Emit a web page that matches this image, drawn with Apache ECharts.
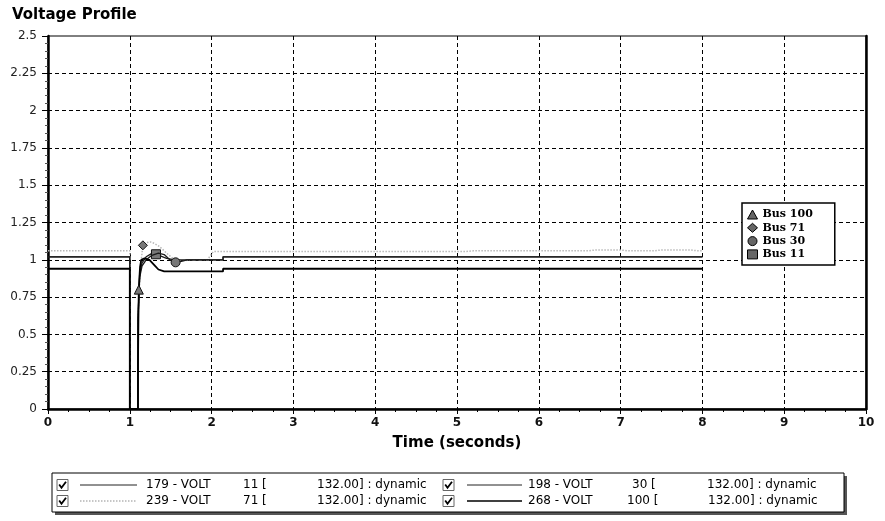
<!DOCTYPE html>
<html><head><meta charset="utf-8">
<script src="https://cdn.jsdelivr.net/npm/echarts@6/dist/echarts.min.js"></script>
<style>html,body{margin:0;padding:0;background:#fff}#c{width:885px;height:521px}</style>
</head><body><div id="c"></div>
<script>
// ---------- data ----------
const xTickValues = [0,1,2,3,4,5,6,7,8,9,10];
const yTickValues = [0,0.25,0.5,0.75,1,1.25,1.5,1.75,2,2.25,2.5];

const seriesNames = ['Bus 11','Bus 71','Bus 30','Bus 100'];
const legendOrder = ['Bus 100','Bus 71','Bus 30','Bus 11'];

// Bus 11 (179 - VOLT)
const t11 = [0,1.0,1.0,1.1,1.1,1.12,1.15,1.2,1.26,1.32,1.38,1.45,1.55,1.65,2.14,2.14,8];
const v11 = [1.02,1.02,0,0,0.6,0.9,0.98,1.02,1.04,1.037,1.025,1.01,1.0,1.0,1.0,1.02,1.02];
const m11 = 9;
// Bus 71 (239 - VOLT)
const t71 = [0,1.0,1.0,1.1,1.1,1.13,1.16,1.2,1.25,1.3,1.36,1.42,1.48,1.55,1.62,1.95,2.02,3.0,5.1,5.2,6.6,6.7,7.0,7.1,7.4,7.5,7.85,7.95,8];
const v71 = [1.06,1.06,0,0,0.6,0.95,1.097,1.115,1.12,1.11,1.09,1.06,1.03,1.0,0.995,1.0,1.055,1.055,1.055,1.06,1.06,1.066,1.066,1.06,1.06,1.066,1.066,1.06,1.06];
const m71 = 6;
// Bus 30 (198 - VOLT)
const t30 = [0,1.0,1.0,1.1,1.1,1.12,1.15,1.2,1.27,1.35,1.42,1.49,1.56,1.63,1.7,2.14,2.14,8];
const v30 = [1.02,1.02,0,0,0.6,0.88,0.96,1.0,1.03,1.045,1.035,1.0,0.983,0.99,1.0,1.0,1.02,1.02];
const m30 = 12;
// Bus 100 (268 - VOLT)
const t100 = [0,1.0,1.0,1.1,1.1,1.105,1.11,1.125,1.14,1.18,1.24,1.3,1.35,1.42,2.14,2.14,8];
const v100 = [0.94,0.94,0,0,0.3,0.6,0.8,0.95,1.0,1.01,1.0,0.965,0.935,0.922,0.922,0.94,0.94];
const m100 = 6;

// bottom legend table
const legendIds = ['179','239','198','268'];
const legendBuses = ['11','71','30','100'];
const legendBase = ['132.00','132.00','132.00','132.00'];

// ---------- build ----------
function build(t, v, mi, sym) {
  return t.map((x, i) => i === mi ? {value:[x, v[i]], symbol: sym, symbolSize: 9} : [x, v[i]]);
}

const lineStyles = {
  'Bus 11': {color:'#1a1a1a', width:1.3, type:'solid'},
  'Bus 71': {color:'#b8b8b8', width:1.5, type:'dotted'},
  'Bus 30': {color:'#1a1a1a', width:1.3, type:'solid'},
  'Bus 100': {color:'#000', width:1.8, type:'solid'}
};
const icons = {'Bus 100':'triangle','Bus 71':'diamond','Bus 30':'circle','Bus 11':'rect'};
const dataMap = {
  'Bus 11': build(t11, v11, m11, 'rect'),
  'Bus 71': build(t71, v71, m71, 'diamond'),
  'Bus 30': build(t30, v30, m30, 'circle'),
  'Bus 100': build(t100, v100, m100, 'triangle')
};
const drawOrder = ['Bus 71','Bus 11','Bus 30','Bus 100'];

const series = drawOrder.map((name, k) => ({
  name, type:'line', data: dataMap[name], symbol:'none', showSymbol:true,
  lineStyle: lineStyles[name], z: 3 + k,
  itemStyle: {color:'#777', borderColor:'#111', borderWidth:1},
  emphasis:{disabled:true}, animation:false
}));

const xMin = xTickValues[0], xMax = xTickValues[xTickValues.length-1], xInt = xTickValues[1]-xTickValues[0];
const yMin = yTickValues[0], yMax = yTickValues[yTickValues.length-1], yInt = yTickValues[1]-yTickValues[0];

const font = '"DejaVu Sans", sans-serif';

// bottom legend graphics
const G = [];
G.push({type:'rect', shape:{x:55, y:476, width:792, height:39}, style:{fill:'#555'}, z:1});
G.push({type:'rect', shape:{x:52, y:473, width:792, height:39}, style:{fill:'#fff', stroke:'#000', lineWidth:1}, z:2});
const colX = [57, 443];
const lineX = [[80,137],[467,522]];
const idX = [146, 528];
const busX = [[243,243],[632,627]];
const baseX = [[317,317],[707,708]];
const rowY = [485, 501];
const cellStyles = [
  {stroke:'#222', lineWidth:1},
  {stroke:'#b4b4b4', lineWidth:1.4, lineDash:[1.5,1.5]},
  {stroke:'#222', lineWidth:1},
  {stroke:'#000', lineWidth:1.6}
];
legendIds.forEach((id, i) => {
  const c = i < 2 ? 0 : 1, r = i % 2;
  const y = rowY[r];
  G.push({type:'rect', shape:{x:colX[c], y:y-5.5, width:11, height:11}, style:{fill:'#fff', stroke:'#666', lineWidth:1}, z:3});
  G.push({type:'polyline', shape:{points:[[colX[c]+2.2,y-0.5],[colX[c]+4.5,y+2.8],[colX[c]+9,y-3.2]]}, style:{stroke:'#000', lineWidth:1.8, fill:null}, z:3});
  G.push({type:'line', shape:{x1:lineX[c][0], y1:y, x2:lineX[c][1], y2:y}, style:cellStyles[i], z:3});
  G.push({type:'text', x:idX[c], y:y, style:{text: id + ' - VOLT', font:'12px ' + font, fill:'#000', verticalAlign:'middle'}, z:3});
  G.push({type:'text', x:busX[c][r], y:y, style:{text: legendBuses[i] + ' [', font:'12px ' + font, fill:'#000', verticalAlign:'middle'}, z:3});
  G.push({type:'text', x:baseX[c][r], y:y, style:{text: legendBase[i] + '] : dynamic', font:'12px ' + font, fill:'#000', verticalAlign:'middle'}, z:3});
});

const option = {
  animation:false,
  backgroundColor:'#fff',
  title:{text:'Voltage Profile', left:7, top:3,
    textStyle:{fontFamily:font, fontWeight:'bold', fontSize:15, color:'#000'}},
  grid:{left:48, right:19, top:36, bottom:112, show:true, borderColor:'#000', borderWidth:1, backgroundColor:'#fff'},
  legend:{
    orient:'vertical', left:742, top:203, padding:[6,22,5,5],
    itemWidth:10, itemHeight:9, itemGap:2.3,
    backgroundColor:'#fff', borderColor:'#000', borderWidth:1.5,
    selectedMode:false,
    textStyle:{fontFamily:'"DejaVu Serif", serif', fontWeight:'bold', fontSize:11, color:'#000', lineHeight:11},
    data: legendOrder.map(n => ({name:n, icon:icons[n], itemStyle:{color:'#666', borderColor:'#000', borderWidth:1}}))
  },
  xAxis:{
    type:'value', min:xMin, max:xMax, interval:xInt,
    axisLine:{show:true, onZero:false, lineStyle:{color:'#000', width:2.5}},
    axisTick:{show:true, length:5, lineStyle:{color:'#000'}},
    minorTick:{show:true, splitNumber:4, length:3, lineStyle:{color:'#000'}},
    splitLine:{show:true, showMinLine:false, showMaxLine:false, lineStyle:{color:'#000', width:1, type:[4,3]}},
    axisLabel:{fontFamily:font, fontWeight:'bold', fontSize:12, color:'#111', margin:8},
    name:'Time (seconds)', nameLocation:'middle', nameGap:27,
    nameTextStyle:{fontFamily:font, fontWeight:'bold', fontSize:15, color:'#000'}
  },
  yAxis:[{
    type:'value', min:yMin, max:yMax, interval:yInt,
    axisLine:{show:true, onZero:false, lineStyle:{color:'#000', width:2.5}},
    axisTick:{show:true, length:6, lineStyle:{color:'#000'}},
    minorTick:{show:true, splitNumber:5, length:3, lineStyle:{color:'#555'}},
    splitLine:{show:true, showMinLine:false, showMaxLine:false, lineStyle:{color:'#000', width:1, type:[4,3]}},
    axisLabel:{fontFamily:font, fontSize:12, color:'#222', margin:11}
  },{
    type:'value', min:yMin, max:yMax, interval:yInt, position:'right',
    axisLine:{show:true, onZero:false, lineStyle:{color:'#000', width:2.5}},
    axisTick:{show:false}, axisLabel:{show:false}, splitLine:{show:false}
  }],
  series,
  graphic: G
};

const chart = echarts.init(document.getElementById('c'), null, {renderer:'canvas'});
chart.setOption(option);
</script>
</body></html>
